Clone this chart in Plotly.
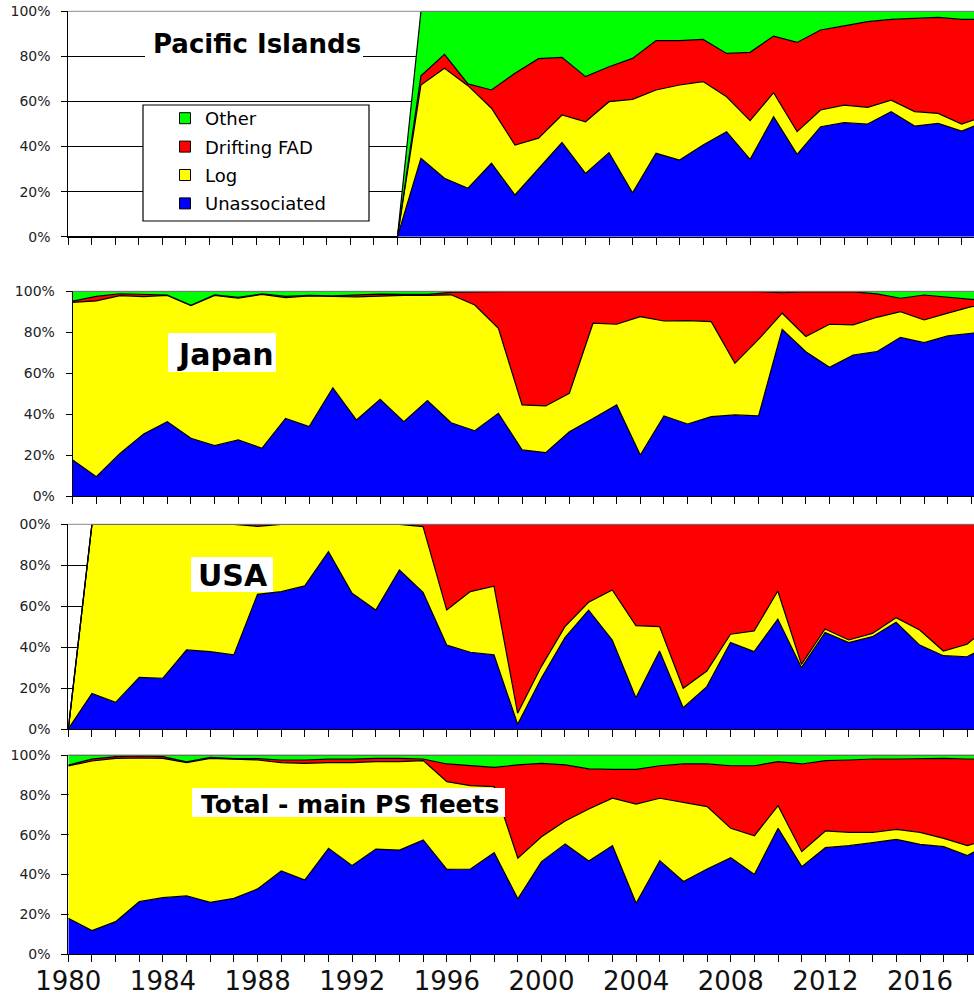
import plotly.graph_objects as go

# ---------------------------------------------------------------------------
# Data: share (%) of purse-seine sets by set type, 1980-2019
# ---------------------------------------------------------------------------
years = list(range(1980, 2020))

series_names = ["Unassociated", "Log", "Drifting FAD", "Other"]
series_colors = {
    "Unassociated": "#0000FF",
    "Log": "#FFFF00",
    "Drifting FAD": "#FF0000",
    "Other": "#00FF00",
}

# Pacific Islands fleet (no activity before 1995)
pi_unassociated = [0, 0, 0, 0, 0, 0, 0, 0, 0, 0, 0, 0, 0, 0, 0,
                   34.8, 25.9, 21.5, 32.6, 18.5, 30.0, 41.8, 28.1, 37.3, 19.5,
                   37.0, 34.0, 40.7, 46.6, 34.3, 53.2, 36.5, 48.8, 50.6, 50.0,
                   55.5, 49.1, 50.3, 46.9, 51.1]
pi_log = [0, 0, 0, 0, 0, 0, 0, 0, 0, 0, 0, 0, 0, 0, 0,
          32.5, 48.8, 45.5, 24.4, 22.2, 13.7, 12.2, 22.9, 22.6, 41.4,
          28.1, 33.3, 28.1, 15.5, 17.2, 10.7, 10.1, 7.4, 7.8, 7.4,
          5.1, 6.4, 4.4, 3.1, 2.3]
pi_dfad = [0, 0, 0, 0, 0, 0, 0, 0, 0, 0, 0, 0, 0, 0, 0,
           4.1, 6.2, 0.8, 8.1, 31.8, 35.3, 25.6, 20.0, 15.5, 18.2,
           21.9, 19.7, 18.7, 19.2, 30.3, 25.1, 39.6, 35.5, 35.1, 38.0,
           35.8, 41.4, 42.6, 46.4, 43.0]
pi_other = [0, 0, 0, 0, 0, 0, 0, 0, 0, 0, 0, 0, 0, 0, 0,
            28.6, 19.1, 32.2, 34.9, 27.5, 21.0, 20.4, 29.0, 24.6, 20.9,
            13.0, 13.0, 12.5, 18.7, 18.2, 11.0, 13.8, 8.3, 6.5, 4.6,
            3.6, 3.1, 2.7, 3.6, 3.6]

# Japan
jp_unassociated = [17.6, 9.4, 20.8, 30.3, 36.3, 28.2, 24.6, 27.4, 23.3, 37.9,
                   33.9, 52.9, 37.1, 47.2, 36.3, 46.6, 35.8, 31.9, 40.4, 22.5,
                   21.2, 31.4, 37.9, 44.5, 20.0, 39.1, 35.2, 38.8, 39.6, 39.1,
                   81.4, 70.5, 62.9, 68.9, 70.5, 77.5, 74.9, 78.2, 79.5, 81.0]
jp_log = [77.0, 85.9, 77.1, 67.1, 61.7, 64.8, 73.4, 69.2, 75.2, 59.0,
          63.8, 44.5, 60.2, 50.4, 61.7, 51.4, 62.5, 61.4, 41.5, 22.0,
          22.8, 18.8, 46.5, 39.4, 67.6, 46.4, 50.5, 46.4, 25.2, 37.4,
          7.9, 7.4, 21.0, 14.7, 16.8, 12.6, 11.1, 11.1, 13.0, 12.5]
jp_dfad = [0.6, 2.2, 0.9, 1.2, 0.2, 0.2, 0.2, 0.4, 0.2, 0.6,
           0.3, 0.4, 1.0, 1.0, 0.5, 0.5, 1.2, 6.5, 17.9, 55.3,
           55.8, 49.6, 15.4, 15.9, 12.2, 14.3, 14.1, 14.6, 35.0, 23.3,
           10.0, 21.8, 15.8, 16.1, 11.4, 6.5, 12.2, 7.8, 3.6, 2.5]
jp_other = [4.8, 2.5, 1.2, 1.4, 1.8, 6.8, 1.8, 3.0, 1.3, 2.5,
            2.0, 2.2, 1.7, 1.4, 1.5, 1.5, 0.5, 0.2, 0.2, 0.2,
            0.2, 0.2, 0.2, 0.2, 0.2, 0.2, 0.2, 0.2, 0.2, 0.2,
            0.7, 0.3, 0.3, 0.3, 1.3, 3.4, 1.8, 2.9, 3.9, 4.0]

# USA
us_unassociated = [0, 17.4, 13.0, 25.2, 24.8, 38.6, 37.8, 36.2, 65.8, 67.1,
                   69.9, 86.6, 66.3, 58.1, 77.7, 66.8, 41.0, 37.5, 36.2, 2.3,
                   24.8, 44.6, 58.1, 43.5, 15.3, 38.1, 10.4, 20.7, 42.3, 37.8,
                   53.7, 30.0, 47.2, 42.2, 45.1, 52.1, 41.0, 35.8, 35.3, 41.0]
us_log = [0, 82.6, 87.0, 74.8, 75.2, 61.4, 62.2, 63.8, 33.2, 32.9,
          30.1, 13.4, 33.7, 41.9, 22.3, 32.1, 17.1, 29.6, 33.6, 5.4,
          5.7, 5.4, 3.8, 24.4, 35.2, 11.9, 9.5, 7.6, 4.0, 10.1,
          13.7, 1.6, 1.7, 1.3, 1.6, 2.3, 7.4, 2.3, 6.1, 10.0]
us_dfad = [0, 0, 0, 0, 0, 0, 0, 0, 1.0, 0,
           0, 0, 0, 0, 0, 1.1, 41.9, 32.9, 30.2, 92.3,
           69.5, 50.0, 38.1, 32.1, 49.5, 50.0, 80.1, 71.7, 53.7, 52.1,
           32.6, 68.4, 51.1, 56.5, 53.3, 45.6, 51.6, 61.9, 58.6, 49.0]
us_other = [0, 0, 0, 0, 0, 0, 0, 0, 0, 0,
            0, 0, 0, 0, 0, 0, 0, 0, 0, 0,
            0, 0, 0, 0, 0, 0, 0, 0, 0, 0,
            0, 0, 0, 0, 0, 0, 0, 0, 0, 0]

# Total of the main purse-seine fleets
tot_unassociated = [18.1, 11.9, 16.4, 26.4, 28.4, 29.3, 26.1, 28.1, 32.8, 41.8,
                    37.3, 53.2, 44.5, 52.8, 52.3, 57.4, 42.6, 42.8, 51.0, 27.8,
                    46.5, 55.4, 46.8, 54.5, 25.6, 47.0, 36.5, 42.8, 48.5, 40.1,
                    63.2, 44.0, 53.5, 54.5, 56.0, 57.7, 55.2, 54.0, 49.5, 56.0]
tot_log = [76.4, 85.1, 81.9, 72.1, 69.9, 66.9, 72.2, 69.7, 64.7, 54.4,
           58.5, 43.0, 51.7, 43.9, 44.4, 39.8, 44.0, 41.8, 33.1, 20.4,
           12.5, 11.5, 26.1, 23.8, 49.8, 31.3, 39.8, 31.3, 14.7, 19.4,
           11.4, 7.5, 8.4, 6.7, 5.2, 5.0, 6.0, 4.2, 5.0, 2.0]
tot_dfad = [0.5, 0.9, 0.9, 1.0, 0.9, 0.4, 0.5, 0.4, 0.7, 1.3,
            1.7, 1.7, 1.7, 1.6, 1.6, 0.8, 8.9, 9.9, 9.7, 46.8,
            36.8, 28.1, 20.1, 14.5, 17.4, 16.3, 19.2, 21.4, 31.4, 35.1,
            22.1, 44.0, 35.3, 36.3, 36.8, 35.3, 37.1, 40.1, 43.5, 40.0]
tot_other = [5.0, 2.1, 0.8, 0.5, 0.8, 3.4, 1.2, 1.8, 1.8, 2.5,
             2.5, 2.1, 2.1, 1.7, 1.7, 2.0, 4.5, 5.5, 6.2, 5.0,
             4.2, 5.0, 7.0, 7.2, 7.2, 5.4, 4.5, 4.5, 5.4, 5.4,
             3.3, 4.5, 2.8, 2.5, 2.0, 2.0, 1.7, 1.7, 2.0, 2.0]

panel_titles = ["Pacific Islands", "Japan", "USA", "Total - main PS fleets"]
panel_series = [
    (pi_unassociated, pi_log, pi_dfad, pi_other),
    (jp_unassociated, jp_log, jp_dfad, jp_other),
    (us_unassociated, us_log, us_dfad, us_other),
    (tot_unassociated, tot_log, tot_dfad, tot_other),
]

y_tick_values = [0, 20, 40, 60, 80, 100]
y_tick_labels = [
    ["0%", "20%", "40%", "60%", "80%", "100%"],
    ["0%", "20%", "40%", "60%", "80%", "100%"],
    ["0%", "20%", "40%", "60%", "80%", "00%"],
    ["0%", "20%", "40%", "60%", "80%", "100%"],
]
x_label_years = [1980, 1984, 1988, 1992, 1996, 2000, 2004, 2008, 2012, 2016]

# ---------------------------------------------------------------------------
# Layout geometry (pixels on a 974 x 998 page)
# ---------------------------------------------------------------------------
W, H = 974, 998
FONT = "DejaVu Sans"


def fx(px):
    return px / W


def fy(py):
    return 1 - py / H


# plot-area top / bottom (y) and left edge + pixels per year (x) per panel
panel_boxes = [
    dict(top=11.3, bottom=236.7, left=68.3, step=23.51),
    dict(top=291.3, bottom=496.0, left=72.7, step=23.65),
    dict(top=524.3, bottom=729.0, left=68.3, step=23.65),
    dict(top=755.0, bottom=954.3, left=68.3, step=23.66),
]

fig = go.Figure()
layout_axes = {}

for i, (series, box) in enumerate(zip(panel_series, panel_boxes)):
    suffix = "" if i == 0 else str(i + 1)
    for name, values in zip(series_names, series):
        fig.add_trace(go.Scatter(
            x=years, y=values, name=name, mode="lines",
            stackgroup=f"panel{i}",
            line=dict(color="black", width=1.2),
            fillcolor=series_colors[name],
            xaxis="x" + suffix, yaxis="y" + suffix,
            showlegend=False, hoverinfo="skip",
        ))

    last = i == len(panel_series) - 1
    x_end = 1980 + (W - box["left"]) / box["step"]
    layout_axes["xaxis" + suffix] = dict(
        domain=[fx(box["left"]), 1.0],
        range=[1980, x_end],
        anchor="y" + suffix,
        automargin=False,
        showgrid=False, zeroline=False,
        showline=True, linecolor="black", linewidth=1,
        ticks="outside", ticklen=7, tickwidth=1, tickcolor="black",
        tickmode="array",
        tickvals=years[:-1],
        ticktext=[str(y) if y in x_label_years else "" for y in years[:-1]],
        showticklabels=last,
        tickfont=dict(family=FONT, size=26, color="#111111"),
        ticklabelstandoff=-4,
        fixedrange=True,
    )
    layout_axes["yaxis" + suffix] = dict(
        domain=[fy(box["bottom"]), fy(box["top"])],
        range=[0, 100],
        anchor="x" + suffix,
        automargin=False,
        showgrid=True, gridcolor="black", gridwidth=1,
        zeroline=False,
        showline=True, linecolor="black", linewidth=1,
        ticks="outside", ticklen=6, tickwidth=1, tickcolor="black",
        tickmode="array", tickvals=y_tick_values, ticktext=y_tick_labels[i],
        tickfont=dict(family=FONT, size=14, color="#222222"),
        ticklabelstandoff=8,
        fixedrange=True,
    )

# Legend entries (square swatches), listed top-down as Other ... Unassociated
for name in reversed(series_names):
    fig.add_trace(go.Scatter(
        x=[None], y=[None], mode="markers", name=name, legendgroup=name,
        marker=dict(symbol="square", size=11, color=series_colors[name],
                    line=dict(color="black", width=1)),
        xaxis="x", yaxis="y", hoverinfo="skip",
    ))

shapes = []
# thin grey frame line along the top of every plot area
for i in range(len(panel_series)):
    suffix = "" if i == 0 else str(i + 1)
    shapes.append(dict(
        type="line", xref=f"x{suffix} domain", yref=f"y{suffix} domain",
        x0=0, x1=1, y0=1, y1=1, line=dict(color="#8a8a8a", width=1),
        layer="above",
    ))

# legend frame
shapes.append(dict(
    type="rect", xref="paper", yref="paper",
    x0=fx(143), x1=fx(369), y0=fy(221), y1=fy(105),
    fillcolor="white", line=dict(color="black", width=1.2), layer="above",
))

# white label boxes behind the panel titles
title_boxes = [
    (145, 363, 28, 60),
    (168, 276, 333, 372),
    (191, 273, 557, 592),
    (192, 505, 788, 817),
]
for x0, x1, y0, y1 in title_boxes:
    shapes.append(dict(
        type="rect", xref="paper", yref="paper",
        x0=fx(x0), x1=fx(x1), y0=fy(y1), y1=fy(y0),
        fillcolor="white", line=dict(width=0), layer="above",
    ))

title_positions = [(257, 43.5, 26), (224.5, 354, 30), (232.5, 575, 30), (349.5, 804, 25)]
annotations = []
for text, (cx, cy, size) in zip(panel_titles, title_positions):
    annotations.append(dict(
        text=text, xref="paper", yref="paper", x=fx(cx), y=fy(cy),
        xanchor="center", yanchor="middle", showarrow=False,
        font=dict(family=FONT, size=size, color="black", weight="bold"),
    ))

fig.update_layout(
    width=W, height=H,
    margin=dict(l=0, r=0, t=0, b=0, autoexpand=False),
    paper_bgcolor="white", plot_bgcolor="white",
    showlegend=True,
    legend=dict(
        x=fx(165), y=fy(100), xanchor="left", yanchor="top",
        bgcolor="rgba(0,0,0,0)", borderwidth=0,
        font=dict(family=FONT, size=18, color="black"),
        traceorder="grouped", tracegroupgap=2,
        itemclick=False, itemdoubleclick=False,
    ),
    shapes=shapes,
    annotations=annotations,
    **layout_axes,
)

fig.write_html("out.html")
